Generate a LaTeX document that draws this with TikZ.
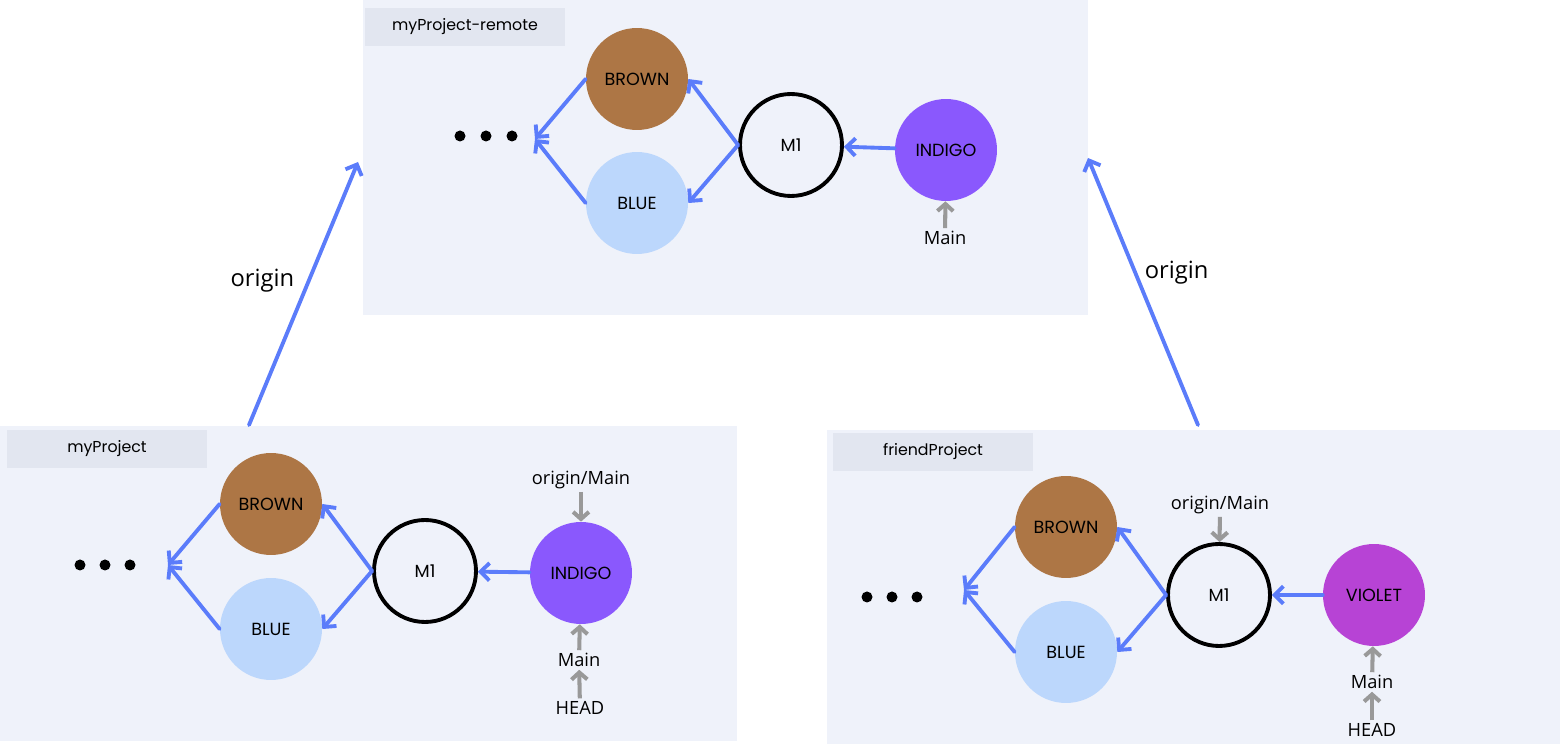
\documentclass[tikz,border=0pt]{standalone}
\usepackage{fontspec}
\setmainfont{Open Sans}
\newfontfamily\commitfont{Poppins}
\usetikzlibrary{arrows.meta}

\definecolor{panelbg}{HTML}{EFF2FA}
\definecolor{tagbg}{HTML}{E2E6F0}
\definecolor{linkblue}{HTML}{5B7CFA}
\definecolor{brownc}{HTML}{AD7645}
\definecolor{bluec}{HTML}{BCD7FC}
\definecolor{indigoc}{HTML}{8A58FD}
\definecolor{violetc}{HTML}{B743D5}
\definecolor{pointergray}{HTML}{999999}

\begin{document}
\begin{tikzpicture}[x=0.02cm,y=-0.02cm,
        commit/.style={circle,minimum size=2.04cm,inner sep=0pt,font=\commitfont\fontsize{10}{12}\selectfont},
        merge/.style={commit,draw=black,line width=2.2pt},
        tag/.style={fill=tagbg,minimum width=4cm,minimum height=0.76cm,inner sep=0pt,font=\commitfont\fontsize{9}{11}\selectfont},
        ref/.style={inner sep=1.5pt,font=\fontsize{10.4}{12}\selectfont},
        link/.style={draw=linkblue,line width=2.2pt,line cap=round,-{Straight Barb[length=5pt,width=10pt]}},
        pointer/.style={draw=pointergray,line width=2.3pt,-{Straight Barb[length=4pt,width=9pt]}},
        dot/.style={fill=black}]
    \useasboundingbox (0,0) rectangle (1560,749);
    % panels
    \fill[panelbg] (363,0) rectangle (1088,315);
    \fill[panelbg] (0,426) rectangle (737,741);
    \fill[panelbg] (827,430) rectangle (1560,744);
    \node[tag] (remotetag) at (465,27) {myProject-remote};
    \node[tag] (localtag) at (107,449) {myProject};
    \node[tag] (friendtag) at (933,452) {friendProject};

    % myProject-remote
    \node[commit,fill=brownc] (rbrown) at (637,79) {BROWN};
    \node[commit,fill=bluec] (rblue) at (637,203) {BLUE};
    \node[merge] (rm1) at (791,145) {M1};
    \node[commit,fill=indigoc] (rindigo) at (946,150) {INDIGO};
    \node[ref] (rmain) at (945,238) {Main};
    \fill[dot] (460,136) circle (5.5) (486,136) circle (5.5) (512,136) circle (5.5);
    \coordinate (rdots) at (535,139);
    \draw[link] (rbrown.west) -- (rdots);
    \draw[link] (rblue.west) -- (rdots);
    \draw[link] (rm1.west) -- (rbrown.east);
    \draw[link] (rm1.west) -- (rblue.east);
    \draw[link] (rindigo) -- (rm1);
    \draw[pointer] (rmain) -- (rindigo);

    % myProject
    \node[commit,fill=brownc] (lbrown) at (271,504) {BROWN};
    \node[commit,fill=bluec] (lblue) at (271,629) {BLUE};
    \node[merge] (lm1) at (425,571) {M1};
    \node[commit,fill=indigoc] (lindigo) at (581,573) {INDIGO};
    \node[ref] (lorigin) at (581,480) {origin/Main};
    \node[ref] (lmain) at (579,660) {Main};
    \node[ref] (lhead) at (580,708) {HEAD};
    \fill[dot] (80,565) circle (5.5) (105,565) circle (5.5) (130,565) circle (5.5);
    \coordinate (ldots) at (168,565);
    \draw[link] (lbrown.west) -- (ldots);
    \draw[link] (lblue.west) -- (ldots);
    \draw[link] (lm1.west) -- (lbrown.east);
    \draw[link] (lm1.west) -- (lblue.east);
    \draw[link] (lindigo) -- (lm1);
    \draw[pointer] (lorigin) -- (lindigo);
    \draw[pointer] (lmain) -- (lindigo);
    \draw[pointer] (lhead) -- (lmain);

    % friendProject
    \node[commit,fill=brownc] (fbrown) at (1066,527) {BROWN};
    \node[commit,fill=bluec] (fblue) at (1066,652) {BLUE};
    \node[merge] (fm1) at (1219,595) {M1};
    \node[commit,fill=violetc] (fviolet) at (1374,595) {VIOLET};
    \node[ref] (forigin) at (1220,505) {origin/Main};
    \node[ref] (fmain) at (1372,682) {Main};
    \node[ref] (fhead) at (1372,730) {HEAD};
    \fill[dot] (867,597) circle (5.5) (892,597) circle (5.5) (917,597) circle (5.5);
    \coordinate (fdots) at (964,590);
    \draw[link] (fbrown.west) -- (fdots);
    \draw[link] (fblue.west) -- (fdots);
    \draw[link] (fm1.west) -- (fbrown.east);
    \draw[link] (fm1.west) -- (fblue.east);
    \draw[link] (fviolet) -- (fm1);
    \draw[pointer] (forigin) -- (fm1);
    \draw[pointer] (fmain) -- (fviolet);
    \draw[pointer] (fhead) -- (fmain);

    % remotes
    \coordinate (lstart) at (249,425);
    \coordinate (lend) at (358,162);
    \coordinate (fstart) at (1198,425);
    \coordinate (fend) at (1088,158);
    \draw[link] (lstart) -- node[pos=0.55,left=4pt,font=\fontsize{13.5}{15}\selectfont] {origin} (lend);
    \draw[link] (fstart) -- node[pos=0.57,right=1pt,font=\fontsize{13.5}{15}\selectfont] {origin} (fend);
\end{tikzpicture}
\end{document}
